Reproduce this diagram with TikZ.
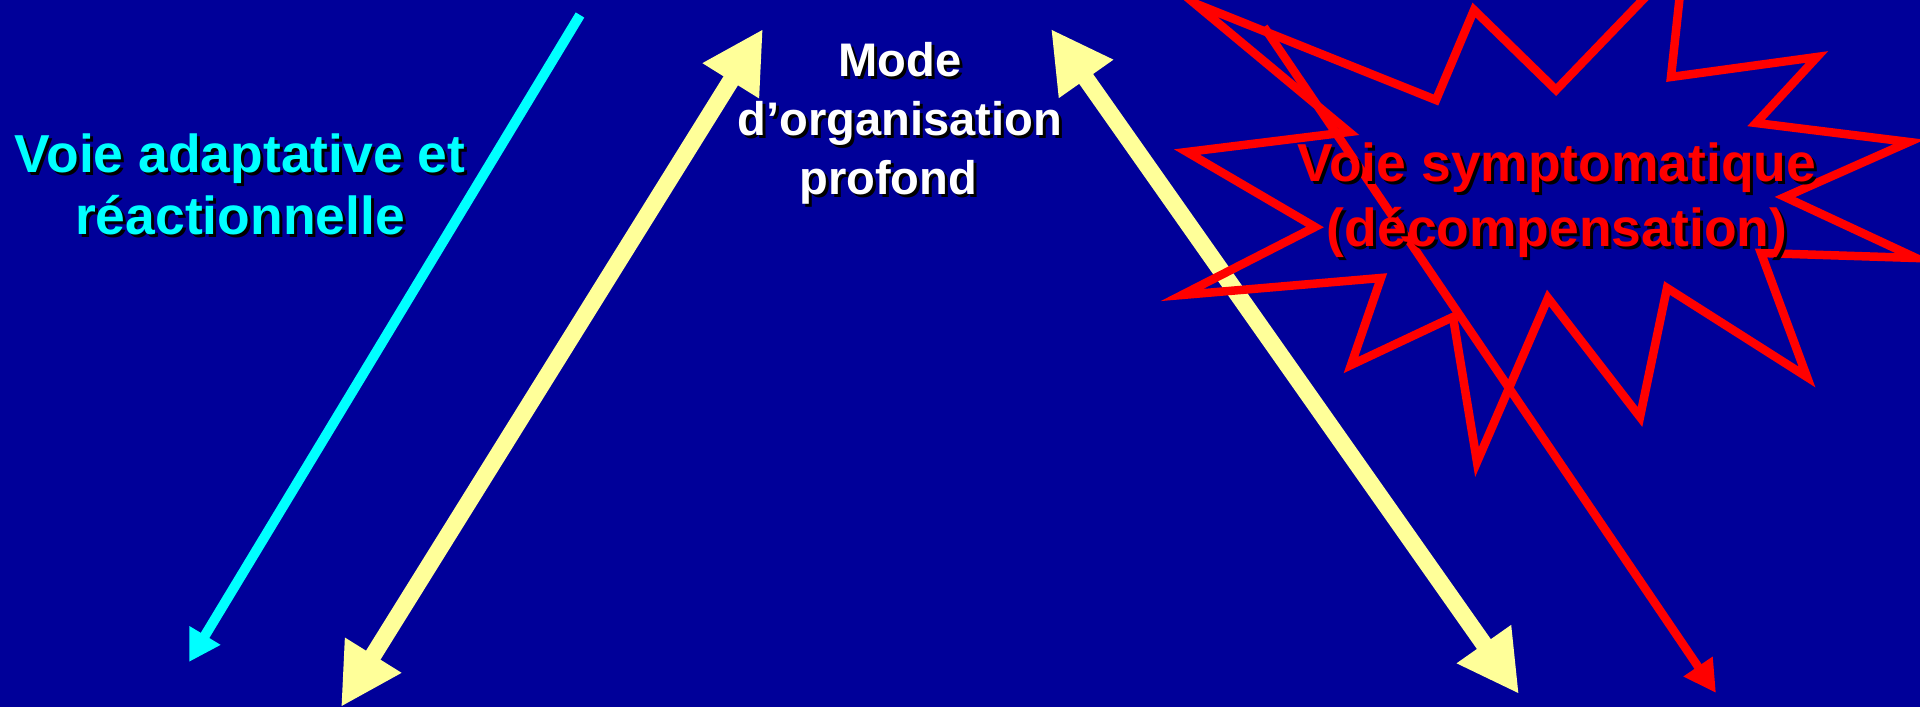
\documentclass[tikz,border=0pt]{standalone}
\usepackage{fontspec}
\setmainfont{Liberation Sans}
\usetikzlibrary{arrows.meta}
\definecolor{slideblue}{RGB}{0,0,153}
\definecolor{paleyellow}{RGB}{255,255,153}
\definecolor{voiecyan}{RGB}{0,255,255}
\definecolor{voiered}{RGB}{255,0,0}

\begin{document}
\begin{tikzpicture}[x=0.01cm,y=-0.01cm,
  yellowarrow/.style={draw=paleyellow,line width=1.7mm,{Triangle[length=6.1mm,width=6.2mm]}-{Triangle[length=6.1mm,width=6.2mm]}},
  cyanarrow/.style={draw=voiecyan,line width=1mm,-{Triangle[length=3.1mm,width=3.4mm]}},
  redarrow/.style={draw=voiered,line width=0.85mm,-{Triangle[length=3.2mm,width=3.3mm]}},
  starline/.style={draw=voiered,line width=0.85mm,line join=miter},
  lbl/.style={font=\bfseries\fontsize{15.2pt}{17.9pt}\selectfont,align=center,anchor=base,inner sep=0pt},
  lblsmall/.style={font=\bfseries\fontsize{13.4pt}{16.9pt}\selectfont,align=center,anchor=base,inner sep=0pt}
]
\useasboundingbox (0,0) rectangle (1920,707);
\fill[slideblue] (0,0) rectangle (1920,707);
\clip (0,0) rectangle (1920,707);

\coordinate (cyan top) at (580,15);
\coordinate (cyan end) at (189,662);
\coordinate (left top) at (763,29);
\coordinate (left end) at (341,707);
\coordinate (right top) at (1051,29);
\coordinate (right end) at (1519,694);
\coordinate (red top) at (1264,27);
\coordinate (red end) at (1716,693);

\draw[cyanarrow] (cyan top) -- (cyan end);
\draw[yellowarrow] (left top) -- (left end);
\draw[yellowarrow] (right top) -- (right end);

% explosion
\draw[starline] (1474,10) -- (1556,90) -- (1684,-43) -- (1671,77) -- (1817,57) -- (1756,123)
  -- (1909,142) -- (1785,197) -- (1916,258) -- (1761,253) -- (1807,377) -- (1667,288)
  -- (1640,417) -- (1548,298) -- (1477,462) -- (1453,317) -- (1351,365) -- (1381,278)
  -- (1182,295) -- (1315,227) -- (1187,152) -- (1349,132) -- (1194,3) -- (1436,100) -- cycle;
\draw[redarrow] (red top) -- (red end);

\node[lbl,text=black] (adaptive shadow) at (243,238) {Voie adaptative et\\réactionnelle};
\node[lbl,text=voiecyan] (adaptive) at (240,235) {Voie adaptative et\\réactionnelle};
\node[lblsmall,text=black] (deep shadow) at (903,198) {Mode\\d’organisation\\profond\hspace*{0.5em}};
\node[lblsmall,text=white] (deep) at (900,195) {Mode\\d’organisation\\profond\hspace*{0.5em}};
\node[lbl,text=black,font=\bfseries\fontsize{15.2pt}{18.5pt}\selectfont] (symptom shadow) at (1560,250) {Voie symptomatique\\(décompensation)};
\node[lbl,text=voiered,font=\bfseries\fontsize{15.2pt}{18.5pt}\selectfont] (symptom) at (1557,247) {Voie symptomatique\\(décompensation)};
\end{tikzpicture}
\end{document}
